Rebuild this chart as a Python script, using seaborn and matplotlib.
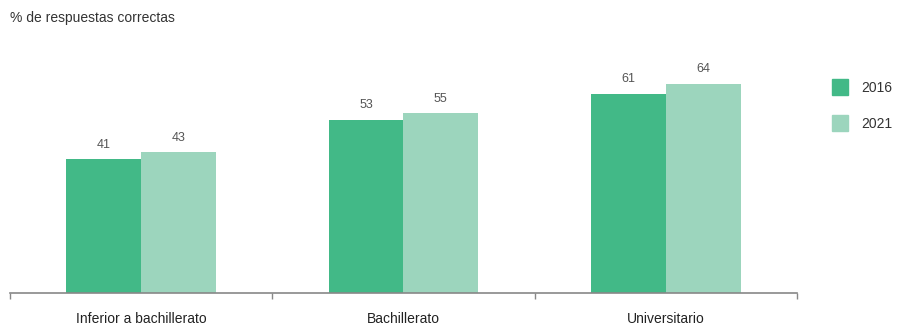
import matplotlib
matplotlib.use("Agg")
import matplotlib.pyplot as plt
import seaborn as sns
import pandas as pd
from matplotlib.lines import Line2D

categories = ["Inferior a bachillerato", "Bachillerato", "Universitario"]
years = ["2016", "2021"]
values_2016 = [41, 53, 61]
values_2021 = [43, 55, 64]
title = "% de respuestas correctas"
colors = ["#42B987", "#9CD5BD"]

df = pd.DataFrame({
    "cat": categories * 2,
    "year": [years[0]] * 3 + [years[1]] * 3,
    "val": values_2016 + values_2021,
})

sns.set_theme(style="white")
plt.rcParams["font.family"] = ["Liberation Sans", "DejaVu Sans"]

fig = plt.figure(figsize=(9.04, 3.25), dpi=100)
ax = fig.add_axes([10 / 904, 32 / 325, 787 / 904, 273 / 325])

sns.barplot(data=df, x="cat", y="val", hue="year", palette=colors,
            width=0.57, saturation=1, ax=ax, legend=False, linewidth=0)

for c in ax.containers:
    ax.bar_label(c, labels=[f"{int(v)}" for v in c.datavalues], padding=6,
                 fontsize=9, color="#555555")

ax.set_ylim(0, 83.5)
ax.set_xlim(-0.5, 2.5)
ax.set_xlabel("")
ax.set_ylabel("")
ax.set_yticks([])
for s in ["top", "right", "left"]:
    ax.spines[s].set_visible(False)
ax.spines["bottom"].set_color("#888888")
ax.spines["bottom"].set_linewidth(1.2)

ax.set_xticks([0, 1, 2])
ax.set_xticklabels(categories, fontsize=10, color="#222222")
ax.set_xticks([-0.5, 0.5, 1.5, 2.5], minor=True)
ax.tick_params(axis="x", which="both", bottom=True)
ax.tick_params(axis="x", which="major", length=0, pad=14)
ax.tick_params(axis="x", which="minor", length=4, color="#888888", width=1, direction="out")

fig.text(10 / 904, 1 - 18 / 325, title, fontsize=10, color="#333333", va="center", ha="left")

handles = [Line2D([0], [0], marker="s", linestyle="", markersize=11,
                  markerfacecolor=colors[i], markeredgecolor=colors[i], label=years[i])
           for i in range(2)]
fig.legend(handles=handles, loc="upper left", bbox_to_anchor=(814 / 904, 1 - 68 / 325),
           frameon=False, fontsize=10, labelspacing=1.6, handletextpad=0.5,
           labelcolor="#333333")

fig.savefig("out.png", dpi=100)
